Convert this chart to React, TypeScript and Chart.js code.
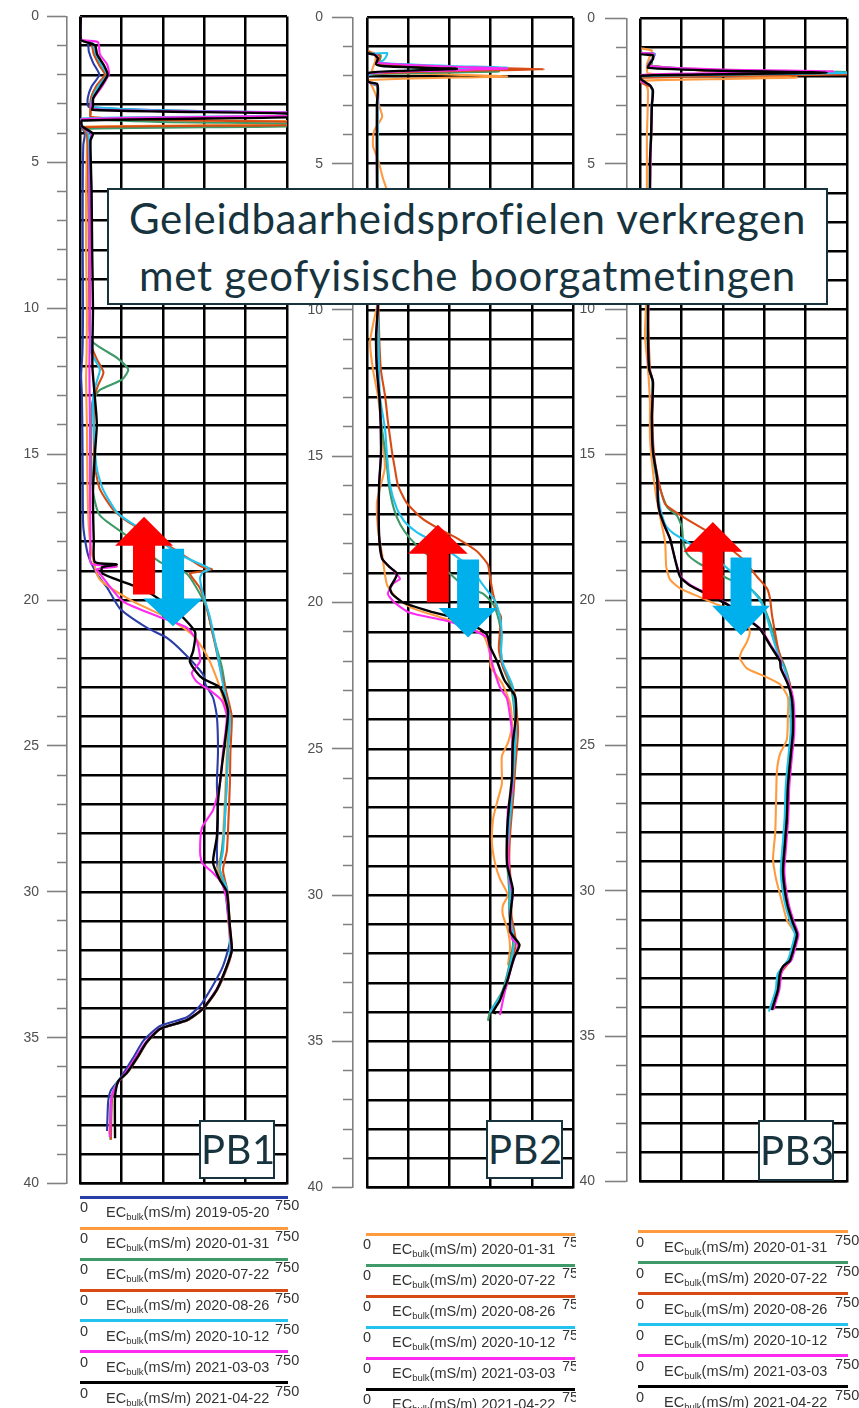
import React, { useEffect, useRef } from 'react';
import { Chart, registerables } from 'chart.js';

Chart.register(...registerables);

type Pt = [number, number]; // [depth (m), EC bulk (mS/m)]

const DATES = ['2019-05-20', '2020-01-31', '2020-07-22', '2020-08-26', '2020-10-12', '2021-03-03', '2021-04-22'];
const COLORS = ['#2b3ea8', '#ff9b3e', '#3e9a68', '#d84b14', '#22c3ee', '#ff2af0', '#000000'];
const EC_MIN = 0;
const EC_MAX = 750;
const EC_STEP = 150;
const DEPTH_MIN = 0;
const DEPTH_MAX = 40;
const DEPTH_STEP = 1;
const DEPTH_LABEL_STEP = 5;
const PANEL_NAMES = ['PB1', 'PB2', 'PB3'];
const TITLE_LINES = ['Geleidbaarheidsprofielen verkregen', 'met geofyisische boorgatmetingen'];

// ---------- PB1 ----------
const pb1_20190520: Pt[] = [[0,3],[0.78,3],[0.9,28],[1.2,32],[1.6,48],[2.0,70],[2.4,42],[2.8,28],[3.1,32],[3.22,300],[3.32,800],[3.42,800],[3.52,6],[3.8,6],[4.0,18],[4.4,12],[6,10],[8,10],[10,11],[11.5,9],[12.3,4],[13,7],[14.5,9],[16,10],[17.5,12],[18.45,29],[19.1,61],[19.6,100],[20.3,145],[20.95,242],[21.3,315],[21.85,380],[22.55,446],[22.9,455],[23.35,482],[24,496],[25.2,500],[26.3,496],[27.45,500],[28.6,496],[29.25,500],[29.9,525],[30.8,536],[31.7,543],[32.55,518],[33.2,482],[33.9,435],[34.3,387],[34.6,290],[35.1,230],[35.7,192],[36.4,145],[36.8,112],[37.2,102],[38.2,98]];
const pb1_20200131: Pt[] = [[0,3],[0.8,3],[0.92,45],[1.3,55],[1.7,75],[2.0,92],[2.4,62],[2.8,42],[3.2,40],[3.45,42],[3.55,300],[3.6,800],[3.7,800],[3.78,10],[3.95,22],[4.3,25],[6,22],[8,22],[10,25],[11.5,24],[12.5,22],[14,25],[16,27],[17.5,32],[18.5,45],[19.3,72],[20.05,192],[20.6,315],[21.2,409],[21.9,460],[22.7,496],[23.35,518],[24,536],[25.2,532],[26.9,525],[28.6,514],[29.25,500],[30,532],[31,538],[32,545],[32.55,532],[33.35,496],[34,446],[34.4,387],[34.7,290],[35.15,242],[35.7,206],[36.2,170],[36.5,138],[36.9,118],[37.2,112],[38.3,106]];
const pb1_20200722: Pt[] = [[0,3],[0.8,3],[0.92,42],[1.3,52],[1.7,72],[2.0,92],[2.4,60],[2.8,40],[3.2,38],[3.5,40],[3.62,300],[3.68,800],[3.76,800],[3.85,10],[4.0,24],[4.4,30],[6,32],[8,34],[10,36],[11.1,40],[11.7,134],[12.1,175],[12.45,152],[12.8,72],[13.2,45],[14.5,40],[15.5,42],[16.3,47],[17.1,72],[17.8,170],[18.7,290],[19.1,387],[19.8,435],[20.3,460],[21.2,482],[22.3,514],[23.35,532],[24,540],[25.2,536],[26.5,530],[28,522],[29.25,507],[30,532],[31,540],[32,548],[32.55,532],[33.35,496],[34,446],[34.4,387],[34.7,290],[35.15,242],[35.7,206],[36.2,170],[36.5,138],[36.9,120],[37.2,114],[38.5,110]];
const pb1_20200826: Pt[] = [[0,3],[0.8,3],[0.92,40],[1.3,50],[1.7,72],[2.0,90],[2.4,58],[2.8,40],[3.2,38],[3.45,40],[3.55,300],[3.62,800],[3.72,800],[3.8,10],[4.0,24],[4.4,28],[6,30],[8,32],[10,34],[11.2,38],[11.75,61],[12.2,85],[12.65,65],[13,54],[14,50],[15.4,54],[16.2,72],[16.9,120],[17.3,170],[17.9,279],[18.45,373],[18.85,440],[18.95,478],[19.05,420],[19.1,398],[19.6,435],[20.3,460],[21.2,482],[22.3,507],[23.35,535],[24,550],[25.2,545],[26.3,543],[27.5,538],[28.6,532],[29.25,518],[30,535],[31,542],[32,550],[32.55,535],[33.35,498],[34,448],[34.4,390],[34.7,292],[35.15,244],[35.7,208],[36.2,172],[36.5,140],[36.9,120],[37.2,115],[38.5,112]];
const pb1_20201012: Pt[] = [[0,3],[0.8,3],[0.92,45],[1.3,58],[1.7,80],[2.0,98],[2.4,66],[2.8,45],[3.1,42],[3.22,300],[3.3,800],[3.4,800],[3.5,6],[3.75,8],[4.0,30],[4.4,32],[6,34],[8,35],[10,36],[11.5,40],[12.1,72],[12.5,61],[13,48],[14.5,52],[15.5,61],[16.2,83],[17.0,134],[17.4,192],[17.8,264],[18.45,362],[18.85,455],[18.95,470],[19.05,445],[19.25,435],[19.8,446],[20.6,471],[21.75,496],[22.9,518],[24,543],[25.2,536],[26.3,532],[27.45,525],[28.6,518],[29.25,507],[29.9,532],[31.4,543],[32,545],[32.55,532],[33.35,496],[34,446],[34.4,387],[34.7,290],[35.15,242],[35.7,206],[36.2,170],[36.5,138],[36.9,118],[37.2,112],[38.4,108]];
const pb1_20210303: Pt[] = [[0,3],[0.78,3],[0.88,65],[1.3,72],[1.64,98],[1.97,105],[2.4,80],[2.85,47],[3.17,43],[3.24,300],[3.3,800],[3.4,800],[3.52,7],[3.8,8],[4.0,40],[4.4,36],[6,36],[8,36],[10,36],[12,34],[14,36],[16,36],[18,38],[18.75,40],[18.85,133],[18.95,60],[19.1,72],[20.05,156],[20.55,279],[20.95,387],[21.4,423],[22.1,435],[22.5,405],[22.8,423],[23.1,471],[23.45,514],[24,532],[25.2,518],[26.3,507],[27.2,482],[27.8,442],[28.6,435],[29.0,442],[29.35,482],[29.7,514],[30.3,532],[31.4,543],[32,550],[32.55,532],[33.35,494],[34,444],[34.4,385],[34.7,288],[35.15,238],[35.7,200],[36.2,165],[36.5,140],[36.9,118],[37.2,112],[38.4,108]];
const pb1_20210422: Pt[] = [[0,3],[0.8,3],[0.9,30],[1.0,55],[1.3,62],[1.7,88],[2.0,100],[2.4,75],[2.8,48],[3.07,47],[3.2,45],[3.26,300],[3.34,800],[3.45,800],[3.57,7],[3.76,7],[4.02,47],[4.25,38],[6,42],[8,44],[10,47],[12,45],[13.5,58],[14,61],[15,54],[16.3,47],[18.0,50],[18.7,54],[18.78,133],[18.88,80],[19.1,82],[19.7,242],[20.5,362],[21.1,417],[21.75,410],[22.1,398],[22.45,420],[22.7,446],[23.0,507],[23.8,536],[24.9,525],[25.7,514],[26.9,500],[28.1,496],[29.0,482],[29.6,507],[30.0,532],[31.2,543],[32.0,550],[32.55,532],[33.35,496],[34.0,446],[34.4,387],[34.7,290],[35.15,242],[35.7,206],[36.2,170],[36.5,138],[37.0,127],[38.45,127]];

// ---------- PB2 ----------
const pb2_20200131: Pt[] = [[0,0],[1.1,0],[1.25,30],[1.5,30],[1.85,20],[1.95,300],[2.02,510],[2.08,200],[2.15,4],[2.2,10],[2.6,30],[3.1,47],[3.4,55],[3.9,25],[4.4,22],[4.85,40],[5.5,58],[5.95,73],[7,65],[8.5,55],[9.5,45],[10.5,22],[11.1,11],[12.05,22],[12.95,40],[14.5,58],[15.4,65],[16.1,47],[16.6,36],[17.5,40],[18.35,55],[19.4,73],[19.85,109],[20.2,167],[20.5,266],[20.75,349],[21.1,422],[21.75,448],[22.2,451],[22.75,491],[23.45,521],[24.2,528],[24.8,513],[25.25,491],[26.2,491],[26.85,473],[27.4,459],[28.2,455],[28.9,466],[29.45,484],[30.0,513],[30.35,495],[30.7,495],[31.2,513],[31.8,521],[32.4,513]];
const pb2_20200722: Pt[] = [[0,0],[1.15,0],[1.3,50],[1.6,45],[1.78,300],[1.85,480],[1.9,200],[1.97,5],[2.2,5],[2.35,36],[3,40],[5,38],[8,38],[10,40],[12,42],[13,44],[14.1,55],[15,69],[16,80],[16.8,98],[17.35,122],[17.8,156],[18.25,204],[18.8,277],[19.4,349],[19.7,422],[20.05,459],[20.6,480],[21.1,488],[21.7,488],[22.2,495],[22.8,520],[23.3,532],[24.4,540],[25.6,532],[26.6,525],[27.8,514],[28.8,510],[29.9,518],[30.7,518],[31.6,532],[32.4,518],[33.3,492],[34.0,448],[34.3,440]];
const pb2_20200826: Pt[] = [[0,0],[1.15,0],[1.3,45],[1.6,45],[1.7,300],[1.77,645],[1.84,300],[1.95,5],[2.2,5],[2.35,38],[3,40],[5,38],[8,40],[10,42],[12,50],[12.95,66],[13.8,76],[14.85,91],[15.45,102],[16,113],[16.6,145],[17.15,204],[17.5,266],[17.8,327],[18.25,400],[18.7,440],[19.15,448],[19.7,459],[20.2,473],[20.5,488],[21.0,484],[21.6,480],[22.2,495],[22.9,531],[23.3,540],[24.4,550],[25.6,540],[26.6,533],[27.8,522],[28.8,518],[29.9,526],[30.7,526],[31.6,542],[32.4,526],[33.3,500],[34.0,455]];
const pb2_20201012: Pt[] = [[0,0],[1.2,0],[1.22,73],[1.43,64],[1.55,47],[1.66,300],[1.72,510],[1.8,200],[1.9,33],[2.0,2],[2.2,4],[2.35,38],[3,40],[5,38],[8,38],[10,40],[12,44],[12.95,47],[14.1,66],[15.0,73],[16.0,84],[16.8,109],[17.25,138],[17.6,182],[17.9,240],[18.35,313],[18.8,375],[19.4,422],[19.95,466],[20.5,484],[21.1,491],[21.7,488],[22.1,495],[22.8,528],[23.3,535],[24.4,542],[25.6,535],[26.6,528],[27.8,517],[28.8,513],[29.9,521],[30.7,521],[31.6,535],[32.4,521],[33.3,495],[34.0,448]];
const pb2_20210303: Pt[] = [[0,0],[1.2,0],[1.3,35],[1.55,40],[1.68,300],[1.75,510],[1.82,250],[1.92,4],[2.2,4],[2.3,36],[2.5,40],[3,37],[5,36],[8,37],[10,38],[11,33],[12,36],[13.2,47],[14.9,51],[16,44],[17.7,44],[18.5,55],[18.8,84],[19.0,105],[19.2,120],[19.35,95],[19.7,76],[20.0,100],[20.35,156],[20.6,277],[20.8,349],[21.2,437],[21.75,448],[22.2,459],[22.9,484],[23.3,510],[24.45,528],[25.6,528],[26.4,528],[27.05,513],[28.4,513],[29.55,521],[30.0,531],[30.7,521],[31.5,528],[31.7,550],[32.4,528],[33.3,502],[34.1,484]];
const pb2_20210422: Pt[] = [[0,0],[1.2,0],[1.27,25],[1.4,40],[1.6,33],[1.66,55],[1.72,200],[1.76,327],[1.82,150],[1.9,4],[2.2,4],[2.27,36],[2.45,40],[3,36],[5,36],[8,38],[9.8,40],[10.9,33],[12.05,36],[13.2,47],[14.9,51],[16.0,44],[17.7,44],[18.5,55],[18.8,84],[19.0,109],[19.2,102],[19.5,84],[19.7,91],[20.0,131],[20.3,229],[20.55,327],[20.85,400],[21.1,437],[21.5,448],[22.0,473],[22.65,500],[23.2,539],[23.9,542],[24.8,531],[25.95,528],[26.95,517],[27.85,510],[28.95,510],[29.8,531],[30.5,524],[31.25,521],[31.7,555],[32.15,535],[32.95,510],[33.3,495],[33.6,484],[34.0,459],[34.05,470]];

// ---------- PB3 ----------
const pb3_20200131: Pt[] = [[0,0],[1.0,0],[1.1,43],[1.3,36],[1.6,25],[1.9,30],[1.97,300],[2.03,569],[2.09,250],[2.15,2],[2.3,22],[2.5,29],[4.1,25],[5.9,25],[8,22],[9.8,22],[10.9,18],[12.05,29],[13.2,36],[14.35,36],[15.25,43],[16.4,58],[17.1,72],[18.0,91],[18.85,95],[19.3,109],[19.6,145],[19.9,217],[20.2,290],[20.4,351],[20.75,387],[21.1,398],[21.45,387],[21.75,369],[22.0,362],[22.35,387],[22.6,446],[22.9,507],[23.35,536],[23.9,536],[24.8,532],[25.3,507],[25.9,496],[26.9,493],[28.0,490],[28.9,482],[29.6,493],[30.1,507],[31.0,532],[31.4,558]];
const pb3_20200722: Pt[] = [[0,0],[1.15,0],[1.22,54],[1.4,43],[1.56,43],[1.63,29],[1.78,300],[1.85,800],[1.92,300],[1.98,2],[2.15,4],[2.3,36],[2.5,45],[3,43],[5,38],[8,32],[10,30],[11,28],[12.05,34],[12.5,45],[13.7,43],[14.9,47],[15.8,60],[16.8,98],[17.1,134],[17.5,152],[17.95,156],[18.4,170],[18.7,206],[18.95,254],[19.3,326],[19.6,398],[19.95,435],[20.5,460],[21.1,482],[21.75,500],[22.3,525],[22.9,543],[23.45,550],[24.55,552],[25.35,544],[26.4,534],[27.5,530],[28.4,523],[29.3,516],[30.0,523],[30.55,534],[31.1,552],[31.5,566],[31.95,556],[32.4,541],[32.85,505],[33.4,498],[33.75,487],[34.1,476]];
const pb3_20200826: Pt[] = [[0,0],[1.15,0],[1.22,50],[1.4,43],[1.6,30],[1.85,300],[1.92,800],[1.98,300],[2.05,2],[2.2,4],[2.35,38],[2.5,45],[3,43],[5,38],[8,32],[10,30],[12.05,36],[12.5,47],[13.7,45],[14.9,50],[15.8,65],[16.7,91],[17.0,134],[17.35,192],[17.7,254],[18.15,315],[18.6,373],[19.2,424],[19.6,460],[19.95,471],[20.5,478],[21.1,489],[21.65,500],[22.2,518],[22.9,543],[23.45,552],[24.55,556],[25.35,548],[26.4,538],[27.5,534],[28.4,527],[29.3,520],[30.0,527],[30.55,538],[31.1,556],[31.5,571],[31.95,560],[32.4,545],[32.85,509],[33.4,502],[33.75,491],[34.1,480]];
const pb3_20201012: Pt[] = [[0,0],[1.15,0],[1.22,54],[1.4,43],[1.63,29],[1.8,300],[1.87,800],[1.94,300],[2.0,2],[2.15,4],[2.3,36],[2.5,45],[3,42],[5,37],[8,30],[10,29],[11,28],[12.05,33],[12.5,46],[13.7,43],[14.9,47],[15.8,60],[16.8,72],[17.4,91],[17.7,120],[17.95,163],[18.3,217],[18.7,290],[19.3,362],[19.7,409],[20.1,440],[20.6,460],[21.2,478],[21.85,500],[22.4,525],[23.05,543],[23.45,544],[24.55,546],[25.35,538],[26.4,528],[27.5,524],[28.4,517],[29.3,510],[30.0,517],[30.55,528],[31.1,546],[31.5,561],[31.95,550],[32.4,535],[32.85,499],[33.4,492],[33.75,481],[34.15,467]];
const pb3_20210303: Pt[] = [[0,0],[1.15,0],[1.22,50],[1.4,45],[1.63,30],[1.76,300],[1.82,700],[1.88,300],[1.95,2],[2.15,4],[2.3,36],[2.48,47],[3,43],[5,38],[8,33],[10,30],[11,29],[12.05,33],[12.5,47],[13.7,43],[14.9,47],[15.8,62],[16.6,65],[17.0,72],[17.5,91],[17.9,109],[18.6,127],[19.2,148],[19.5,185],[19.85,258],[20.15,318],[20.65,390],[21.0,438],[21.55,474],[22.1,510],[22.35,512],[22.9,540],[23.45,556],[24.55,559],[25.35,551],[26.4,541],[27.5,537],[28.4,530],[29.3,523],[30.0,530],[30.55,541],[31.1,559],[31.5,574],[31.95,563],[32.4,548],[32.6,523],[32.85,512],[33.4,505],[33.75,494],[34.1,483]];
const pb3_20210422: Pt[] = [[0,0],[1.2,0],[1.27,47],[1.4,47],[1.55,36],[1.7,29],[1.8,300],[1.86,677],[1.92,300],[1.97,0],[2.1,4],[2.3,36],[2.48,47],[3.0,43],[4.1,40],[4.9,36],[5.9,36],[8,32],[9.8,29],[10.9,29],[12.05,33],[12.5,47],[13.7,43],[14.9,47],[15.8,62],[16.6,65],[17.0,72],[17.5,91],[17.9,109],[18.6,127],[19.2,145],[19.5,181],[19.85,254],[20.15,315],[20.65,387],[21.0,435],[21.55,471],[22.1,507],[22.35,510],[22.9,536],[23.45,551],[24.55,554],[25.35,546],[26.4,536],[27.5,532],[28.4,525],[29.3,518],[30.0,525],[30.55,536],[31.1,554],[31.5,569],[31.95,558],[32.4,543],[32.6,518],[32.85,507],[33.4,500],[33.75,489],[34.1,478]];

// arrows (annotation) in data units: x = EC centre, depths of tip / head base / tail
type Arrow = { color: string; x: number; tip: number; head: number; tail: number; headHalf: number; shaftHalf: number };
const pb1_arrows: Arrow[] = [
  { color: '#ff0000', x: 232, tip: 17.15, head: 18.14, tail: 19.81, headHalf: 105, shaftHalf: 40 },
  { color: '#00b0ec', x: 337, tip: 20.9, head: 19.95, tail: 18.24, headHalf: 108, shaftHalf: 40 },
];
const pb2_arrows: Arrow[] = [
  { color: '#ff0000', x: 258, tip: 17.34, head: 18.33, tail: 19.99, headHalf: 109, shaftHalf: 40 },
  { color: '#00b0ec', x: 368, tip: 21.2, head: 20.19, tail: 18.53, headHalf: 107, shaftHalf: 40 },
];
const pb3_arrows: Arrow[] = [
  { color: '#ff0000', x: 264, tip: 17.32, head: 18.34, tail: 19.97, headHalf: 107, shaftHalf: 38 },
  { color: '#00b0ec', x: 366, tip: 21.22, head: 20.2, tail: 18.54, headHalf: 105, shaftHalf: 38 },
];

const pb1_series: { d: number; pts: Pt[] }[] = [
  { d: 0, pts: pb1_20190520 }, { d: 1, pts: pb1_20200131 }, { d: 2, pts: pb1_20200722 }, { d: 3, pts: pb1_20200826 },
  { d: 4, pts: pb1_20201012 }, { d: 5, pts: pb1_20210303 }, { d: 6, pts: pb1_20210422 },
];
const pb2_series: { d: number; pts: Pt[] }[] = [
  { d: 1, pts: pb2_20200131 }, { d: 2, pts: pb2_20200722 }, { d: 3, pts: pb2_20200826 },
  { d: 4, pts: pb2_20201012 }, { d: 5, pts: pb2_20210303 }, { d: 6, pts: pb2_20210422 },
];
const pb3_series: { d: number; pts: Pt[] }[] = [
  { d: 1, pts: pb3_20200131 }, { d: 2, pts: pb3_20200722 }, { d: 3, pts: pb3_20200826 },
  { d: 4, pts: pb3_20201012 }, { d: 5, pts: pb3_20210303 }, { d: 6, pts: pb3_20210422 },
];

// ---------- layout (page pixels) ----------
type Panel = {
  name: string; series: { d: number; pts: Pt[] }[]; arrows: Arrow[];
  left: number; width: number; height: number; axisX: number; gridLeft: number; gridRight: number; top: number; bottom: number;
  tickLen: number; minorLen: number; labelPad: number;
  box: { x: number; y: number; w: number; h: number };
  legend: { lineLeft: number; lineRight: number; zeroLeft: number; firstY: number; step: number; clipRight: number; endLabel: string };
};

const PANELS: Panel[] = [
  {
    name: PANEL_NAMES[0], series: pb1_series, arrows: pb1_arrows,
    left: 0, width: 295, height: 1200, axisX: 67, gridLeft: 80, gridRight: 287, top: 12, bottom: 1185,
    tickLen: 20, minorLen: 10, labelPad: 8,
    box: { x: 199, y: 1120, w: 76, h: 59 },
    legend: { lineLeft: 80, lineRight: 288, zeroLeft: 80, firstY: 1197.3, step: 30.9, clipRight: 300, endLabel: '750' },
  },
  {
    name: PANEL_NAMES[1], series: pb2_series, arrows: pb2_arrows,
    left: 290, width: 295, height: 1205, axisX: 353, gridLeft: 367, gridRight: 573, top: 11, bottom: 1192,
    tickLen: 21, minorLen: 10, labelPad: 9,
    box: { x: 486, y: 1120, w: 77, h: 59 },
    legend: { lineLeft: 366, lineRight: 575, zeroLeft: 363, firstY: 1234.3, step: 31, clipRight: 576, endLabel: '750' },
  },
  {
    name: PANEL_NAMES[2], series: pb3_series, arrows: pb3_arrows,
    left: 572, width: 287, height: 1200, axisX: 627, gridLeft: 640, gridRight: 847, top: 12, bottom: 1190,
    tickLen: 22, minorLen: 11, labelPad: 10,
    box: { x: 758, y: 1120, w: 76, h: 61 },
    legend: { lineLeft: 638, lineRight: 848, zeroLeft: 636, firstY: 1231.7, step: 31, clipRight: 859, endLabel: '750' },
  },
];

const AXIS_GREY = '#808080';
const TEXT_GREY = '#505050';
const DARK_TEAL = '#17343e';
const SANS = '"Liberation Sans", Arial, sans-serif';
const TITLE_FONT = 'Lato, "Open Sans", sans-serif';

function PanelChart({ p }: { p: Panel }) {
  const ref = useRef<HTMLCanvasElement>(null);
  useEffect(() => {
    const canvas = ref.current;
    if (!canvas) return;
    const yAxisW = p.axisX - p.left;
    const gapW = p.gridLeft - p.axisX;
    const arrowPlugin = {
      id: 'arrows' + p.name,
      afterDatasetsDraw(chart: any) {
        const xs = chart.scales.x;
        const ys = chart.scales.y;
        const ctx = chart.ctx;
        ctx.save();
        for (const a of p.arrows) {
          const cx = xs.getPixelForValue(a.x);
          const hw = xs.getPixelForValue(a.x + a.headHalf) - cx;
          const sw = xs.getPixelForValue(a.x + a.shaftHalf) - cx;
          const yTip = ys.getPixelForValue(a.tip);
          const yHead = ys.getPixelForValue(a.head);
          const yTail = ys.getPixelForValue(a.tail);
          ctx.beginPath();
          ctx.moveTo(cx, yTip);
          ctx.lineTo(cx + hw, yHead);
          ctx.lineTo(cx + sw, yHead);
          ctx.lineTo(cx + sw, yTail);
          ctx.lineTo(cx - sw, yTail);
          ctx.lineTo(cx - sw, yHead);
          ctx.lineTo(cx - hw, yHead);
          ctx.closePath();
          ctx.fillStyle = a.color;
          ctx.fill();
        }
        ctx.restore();
      },
    };
    const n = p.series.length;
    const chart = new Chart(canvas, {
      type: 'scatter',
      data: {
        datasets: p.series.map((s, i) => ({
          label: DATES[s.d],
          data: s.pts.map(([depth, ec]) => ({ x: ec, y: depth })),
          borderColor: COLORS[s.d],
          backgroundColor: COLORS[s.d],
          borderWidth: s.d === 6 ? 2.4 : 2.1,
          showLine: true,
          pointRadius: 0,
          pointHoverRadius: 0,
          tension: 0.2,
          order: n - i,
          xAxisID: 'x',
          yAxisID: 'y',
        })),
      },
      options: {
        responsive: false,
        animation: false,
        devicePixelRatio: 1,
        events: [],
        layout: {
          padding: { left: 0, top: p.top, right: p.left + p.width - p.gridRight, bottom: p.height - p.bottom },
        },
        plugins: { legend: { display: false }, tooltip: { enabled: false }, title: { display: false } },
        scales: {
          x: {
            type: 'linear', position: 'bottom', min: EC_MIN, max: EC_MAX,
            ticks: { display: false, stepSize: EC_STEP, maxTicksLimit: 100 },
            grid: { color: '#000', lineWidth: 2.5, drawTicks: false },
            border: { display: true, color: '#000', width: 2.5 },
            afterFit: (s: any) => { s.height = 0; },
          },
          y: {
            type: 'linear', position: 'left', weight: 0, min: DEPTH_MIN, max: DEPTH_MAX, reverse: true,
            ticks: { display: false, stepSize: DEPTH_STEP, autoSkip: false, maxTicksLimit: 100 },
            grid: { color: '#000', lineWidth: 2.5, drawTicks: false },
            border: { display: false },
            afterFit: (s: any) => { s.width = gapW; },
          },
          yTicks: {
            type: 'linear', position: 'left', weight: 1, min: DEPTH_MIN, max: DEPTH_MAX, reverse: true,
            ticks: {
              stepSize: DEPTH_STEP, autoSkip: false, maxTicksLimit: 100,
              callback: (v: any) => (Number(v) % DEPTH_LABEL_STEP === 0 ? String(v) : ''),
              color: TEXT_GREY, font: { family: SANS, size: 14 }, padding: p.labelPad,
            },
            grid: {
              drawOnChartArea: false, drawTicks: true, tickLength: p.tickLen,
              tickColor: AXIS_GREY, tickWidth: 1.6,
              tickBorderDash: (ctx: any) =>
                ctx.tick && Number(ctx.tick.value) % DEPTH_LABEL_STEP === 0 ? [] : [0, p.tickLen - p.minorLen, p.minorLen, 0],
            },
            border: { display: true, color: AXIS_GREY, width: 1.6 },
            afterFit: (s: any) => { s.width = yAxisW; },
          },
        },
      } as any,
      plugins: [arrowPlugin],
    });
    return () => chart.destroy();
  }, [p]);
  return (
    <canvas
      ref={ref}
      width={p.width}
      height={p.height}
      style={{ position: 'absolute', left: p.left, top: 0, width: p.width, height: p.height }}
    />
  );
}

function Legend({ p }: { p: Panel }) {
  const L = p.legend;
  const textStyle: React.CSSProperties = {
    position: 'absolute', fontFamily: SANS, fontSize: 14.5, lineHeight: '16px', color: '#333', whiteSpace: 'nowrap',
  };
  return (
    <div style={{ position: 'absolute', left: 0, top: 0, width: L.clipRight, height: 1408, overflow: 'hidden', pointerEvents: 'none' }}>
      {p.series.map((s, i) => {
        const y = L.firstY + i * L.step;
        return (
          <React.Fragment key={i}>
            <div style={{ position: 'absolute', left: L.lineLeft, top: y - 1.5, width: L.lineRight - L.lineLeft, height: 3, background: COLORS[s.d] }} />
            <span style={{ ...textStyle, left: L.zeroLeft, top: y + 2 }}>0</span>
            <span style={{ ...textStyle, left: L.lineLeft + 26, top: y + 7 }}>
              EC<sub style={{ fontSize: 9.5, verticalAlign: '-3px', lineHeight: 0 }}>bulk</sub>(mS/m) {DATES[s.d]}
            </span>
            <span style={{ ...textStyle, left: L.lineRight - 13, top: y }}>{L.endLabel}</span>
          </React.Fragment>
        );
      })}
    </div>
  );
}

export default function App() {
  return (
    <div style={{ position: 'absolute', left: 0, top: 0, width: 859, height: 1408, overflow: 'hidden', background: '#fff' }}>
      {PANELS.map((p) => (
        <PanelChart key={p.name} p={p} />
      ))}
      {PANELS.map((p) => (
        <Legend key={'lg' + p.name} p={p} />
      ))}
      {PANELS.map((p) => (
        <div
          key={'box' + p.name}
          style={{
            position: 'absolute', left: p.box.x, top: p.box.y, width: p.box.w, height: p.box.h, boxSizing: 'border-box',
            border: `2px solid ${DARK_TEAL}`, background: '#fff', color: DARK_TEAL, fontFamily: TITLE_FONT,
            fontSize: 40, lineHeight: `${p.box.h - 4}px`, textAlign: 'center', letterSpacing: '0.5px',
          }}
        >
          {p.name}
        </div>
      ))}
      <div
        style={{
          position: 'absolute', left: 107, top: 188, width: 721, height: 117, boxSizing: 'border-box',
          border: `2px solid ${DARK_TEAL}`, background: '#fff', color: DARK_TEAL, fontFamily: TITLE_FONT,
          fontSize: 42, lineHeight: '57px', textAlign: 'center', whiteSpace: 'nowrap', letterSpacing: '0.7px',
        }}
      >
        {TITLE_LINES.map((t) => (
          <div key={t}>{t}</div>
        ))}
      </div>
    </div>
  );
}
